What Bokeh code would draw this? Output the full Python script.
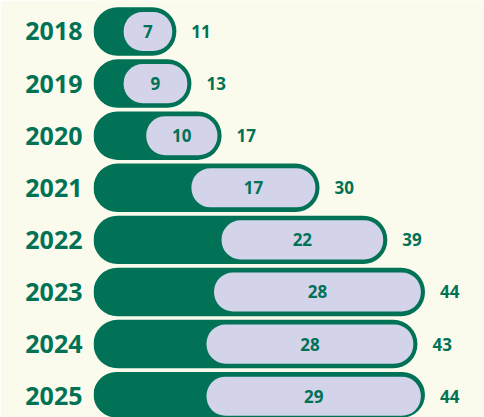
from bokeh.plotting import figure, ColumnDataSource
from bokeh.models import Range1d, FixedTicker
from bokeh.core.properties import value
from bokeh.embed import file_html
from bokeh.resources import INLINE

years = ["2018", "2019", "2020", "2021", "2022", "2023", "2024", "2025"]
outer_vals = [11, 13, 17, 30, 39, 44, 43, 44]
inner_vals = [7, 9, 10, 17, 22, 28, 28, 29]

GREEN = "#017256"
LAV = "#D3D3EA"
BG = "#FAFBEC"
GAP = 0.55  # inset of inner pill from outer end (data units)

pos = list(range(len(years)))
src = ColumnDataSource(dict(
    y=pos,
    outer=outer_vals,
    inner=inner_vals,
    zero=[0] * len(pos),
    in_left=[o - i for o, i in zip(outer_vals, inner_vals)],
    in_right=[o - GAP for o in outer_vals],
    in_mid=[((o - i) + (o - GAP)) / 2 for o, i in zip(outer_vals, inner_vals)],
    outer_lbl=[str(o) for o in outer_vals],
    inner_lbl=[str(i) for i in inner_vals],
))

p = figure(width=484, height=417, output_backend="svg", toolbar_location=None,
           x_range=Range1d(0, 51.9), y_range=Range1d(7.409, -0.595),
           min_border_left=93, min_border_right=0, min_border_top=0, min_border_bottom=0)
p.background_fill_color = BG
p.border_fill_color = BG
p.outline_line_color = None
p.xgrid.visible = False
p.ygrid.visible = False
p.xaxis.visible = False

p.hbar(y="y", left="zero", right="outer", height=0.93, source=src,
       fill_color=GREEN, line_color=None, border_radius=24)
p.hbar(y="y", left="in_left", right="in_right", height=0.75, source=src,
       fill_color=LAV, line_color=None, border_radius=19)

p.text(x="in_mid", y="y", text="inner_lbl", source=src,
       text_font=value("Open Sans"), text_font_style="bold", text_font_size="17px",
       text_color=GREEN, text_align="center", text_baseline="middle")
p.text(x="outer", y="y", text="outer_lbl", source=src, x_offset=15,
       text_font=value("Open Sans"), text_font_style="bold", text_font_size="17px",
       text_color=GREEN, text_align="left", text_baseline="middle")

ax = p.yaxis[0]
ax.ticker = FixedTicker(ticks=pos)
ax.major_label_overrides = {i: y for i, y in zip(pos, years)}
ax.axis_line_color = None
ax.major_tick_line_color = None
ax.minor_tick_line_color = None
ax.major_tick_out = 0
ax.major_tick_in = 0
ax.major_label_standoff = 11
ax.major_label_text_font = "Open Sans"
ax.major_label_text_font_style = "bold"
ax.major_label_text_font_size = "25px"
ax.major_label_text_color = GREEN

open("out.html", "w").write(file_html(p, INLINE))
